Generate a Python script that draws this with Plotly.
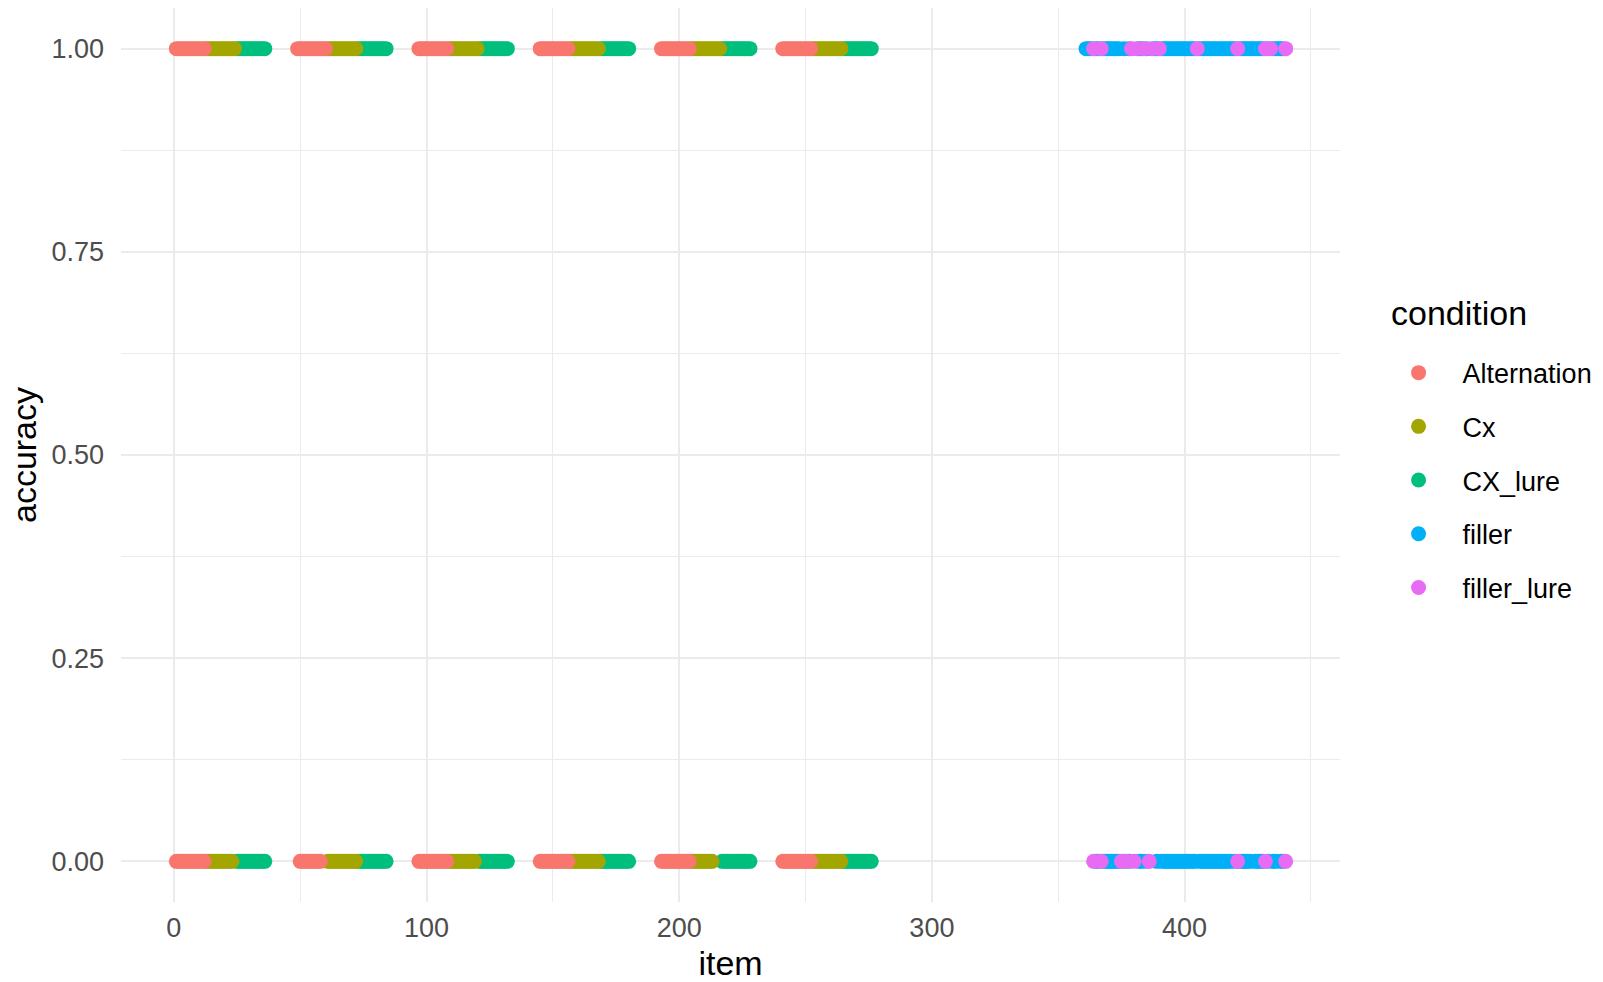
import plotly.graph_objects as go

# ---- item numbers per condition ------------------------------------------
alternation_items = [
    1, 2, 3, 4, 5, 6, 7, 8, 9, 10, 11, 12,
    49, 50, 51, 52, 53, 54, 55, 56, 57, 58, 59, 60,
    97, 98, 99, 100, 101, 102, 103, 104, 105, 106, 107, 108,
    145, 146, 147, 148, 149, 150, 151, 152, 153, 154, 155, 156,
    193, 194, 195, 196, 197, 198, 199, 200, 201, 202, 203, 204,
    241, 242, 243, 244, 245, 246, 247, 248, 249, 250, 251, 252,
]
cx_items = [
    13, 14, 15, 16, 17, 18, 19, 20, 21, 22, 23, 24,
    61, 62, 63, 64, 65, 66, 67, 68, 69, 70, 71, 72,
    109, 110, 111, 112, 113, 114, 115, 116, 117, 118, 119, 120,
    157, 158, 159, 160, 161, 162, 163, 164, 165, 166, 167, 168,
    205, 206, 207, 208, 209, 210, 211, 212, 213, 214, 215, 216,
    253, 254, 255, 256, 257, 258, 259, 260, 261, 262, 263, 264,
]
cx_lure_items = [
    25, 26, 27, 28, 29, 30, 31, 32, 33, 34, 35, 36,
    73, 74, 75, 76, 77, 78, 79, 80, 81, 82, 83, 84,
    121, 122, 123, 124, 125, 126, 127, 128, 129, 130, 131, 132,
    169, 170, 171, 172, 173, 174, 175, 176, 177, 178, 179, 180,
    217, 218, 219, 220, 221, 222, 223, 224, 225, 226, 227, 228,
    265, 266, 267, 268, 269, 270, 271, 272, 273, 274, 275, 276,
]
filler_items = [
    361, 362, 363, 365, 366, 368, 369, 370, 371, 372, 373, 374, 376, 378,
    382, 383, 385, 388, 389, 391, 392, 393, 394, 395, 396, 397, 398, 399,
    400, 401, 402, 403, 404, 406, 407, 408, 409, 410, 411, 412, 413, 414,
    415, 416, 417, 418, 419, 420, 422, 423, 424, 425, 426, 427, 428, 429,
    430, 431, 433, 435, 436, 437, 438, 439,
]
filler_lure_items = [
    364, 367, 375, 377, 379, 380, 381, 384, 386, 387, 390, 405, 421, 432,
    434, 440,
]

# items never answered incorrectly (no point at accuracy 0)
alternation_no_errors = [49, 59, 60]
cx_no_errors = [24, 120, 214, 215, 216]
cx_lure_no_errors = []
filler_no_errors = [361, 362, 363, 388, 419, 427, 437]
filler_lure_no_errors = [379, 381, 384, 387, 390, 405, 434]

# items never answered correctly (no point at accuracy 1)
alternation_no_correct = []
cx_no_correct = []
cx_lure_no_correct = []
filler_no_correct = []
filler_lure_no_correct = [375, 377, 380, 386]

condition_names = ["Alternation", "Cx", "CX_lure", "filler", "filler_lure"]
condition_colors = ["#F8766D", "#A3A500", "#00BF7D", "#00B0F6", "#E76BF3"]

y_ticks = [0.0, 0.25, 0.5, 0.75, 1.0]
y_tick_text = ["0.00", "0.25", "0.50", "0.75", "1.00"]
y_minor = [0.125, 0.375, 0.625, 0.875]
x_ticks = [0, 100, 200, 300, 400]
x_minor = [50, 150, 250, 350, 450]

series = {
    "Alternation": (alternation_items, alternation_no_errors, alternation_no_correct),
    "Cx": (cx_items, cx_no_errors, cx_no_correct),
    "CX_lure": (cx_lure_items, cx_lure_no_errors, cx_lure_no_correct),
    "filler": (filler_items, filler_no_errors, filler_no_correct),
    "filler_lure": (filler_lure_items, filler_lure_no_errors, filler_lure_no_correct),
}

fig = go.Figure()

# drawing order: later traces sit on top of earlier ones
draw_order = ["CX_lure", "Cx", "Alternation", "filler", "filler_lure"]
for name in draw_order:
    items, no_err, no_corr = series[name]
    xs_correct = [i for i in items if i not in no_corr]
    xs_wrong = [i for i in items if i not in no_err]
    xs = xs_correct + xs_wrong
    ys = [1.0] * len(xs_correct) + [0.0] * len(xs_wrong)
    idx = condition_names.index(name)
    fig.add_trace(go.Scatter(
        x=xs, y=ys, mode="markers", name=name,
        legendgroup=name, legendrank=idx + 1,
        marker=dict(color=condition_colors[idx], size=15, line=dict(width=0)),
        hoverinfo="x+y+name",
    ))

grid = "#EBEBEB"
fig.update_layout(
    width=1603, height=982,
    margin=dict(l=121, r=263, t=8, b=80),
    paper_bgcolor="white", plot_bgcolor="white",
    font=dict(family="Liberation Sans, Arial, sans-serif", color="black"),
    xaxis=dict(
        range=[-20.9, 461.5], tickvals=x_ticks, ticks="",
        showgrid=True, gridcolor=grid, gridwidth=2,
        minor=dict(tickvals=x_minor, showgrid=True, gridcolor=grid, gridwidth=1.1),
        zeroline=False, showline=False, ticklabelstandoff=7, automargin=False,
        tickfont=dict(size=27, color="#4D4D4D"),
        title=dict(text="item", font=dict(size=34, color="black"), standoff=14),
    ),
    yaxis=dict(
        range=[-0.05, 1.05], tickvals=y_ticks, ticktext=y_tick_text, ticks="",
        showgrid=True, gridcolor=grid, gridwidth=2,
        minor=dict(tickvals=y_minor, showgrid=True, gridcolor=grid, gridwidth=1.1),
        zeroline=False, showline=False, ticklabelstandoff=16, automargin=False,
        tickfont=dict(size=27, color="#4D4D4D"),
        title=dict(text="accuracy", font=dict(size=34, color="black"), standoff=4),
    ),
    legend=dict(
        xref="container", x=0.8575, y=0.619, xanchor="left", yanchor="top",
        font=dict(size=27, color="black"),
        tracegroupgap=15.6, itemwidth=78,
        bgcolor="rgba(0,0,0,0)",
    ),
    annotations=[dict(
        text="condition", x=1.0406, y=0.659, xref="paper", yref="paper",
        xanchor="left", yanchor="middle", showarrow=False,
        font=dict(size=34, color="black"),
    )],
)

fig.write_html("out.html")
